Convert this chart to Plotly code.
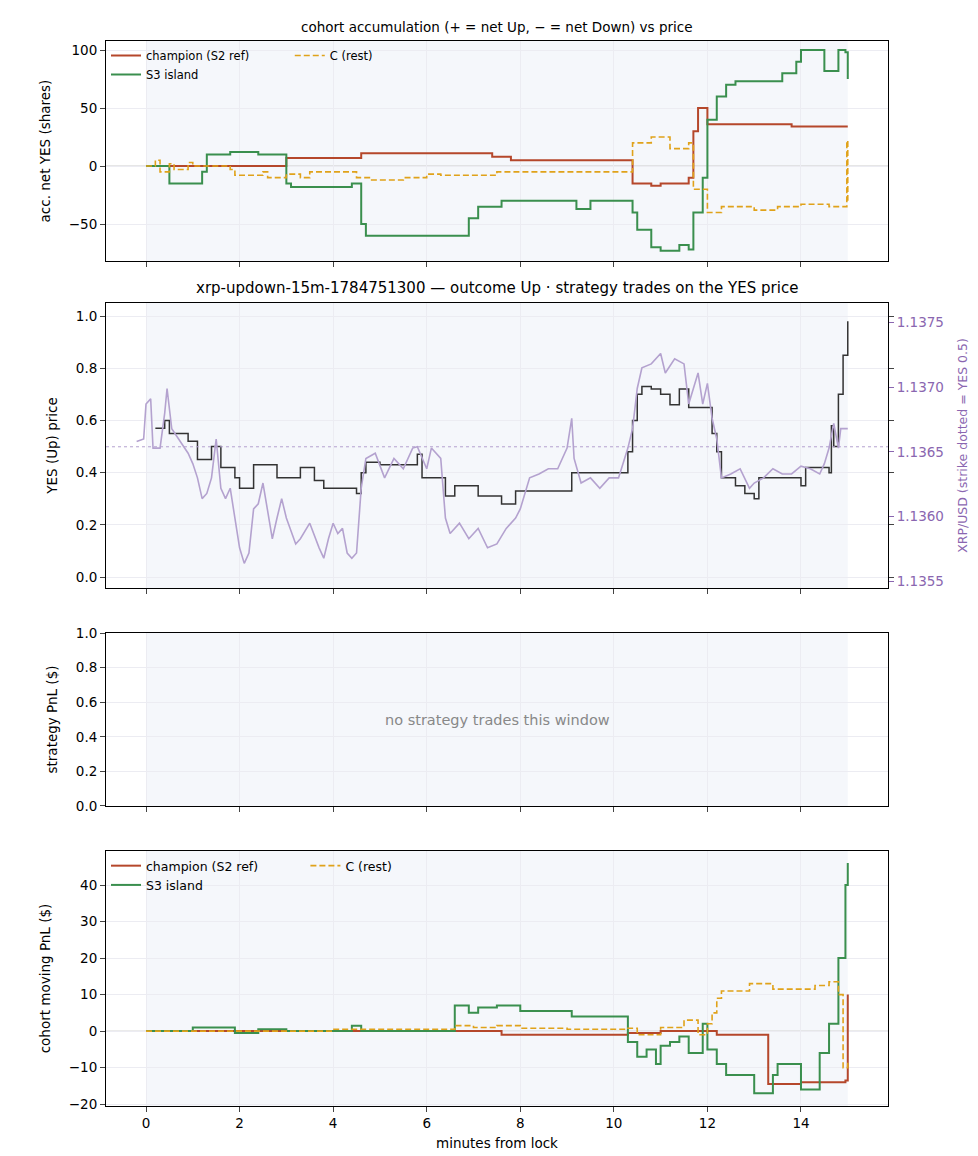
import plotly.graph_objects as go

# ---- panel 1: cohort accumulation ----
champ_acc_x = [0, 3.0, 4.6, 7.4, 7.8, 10.4, 10.8, 11.0, 11.5, 11.6, 11.7, 11.8, 12.0, 13.8, 15.0]
champ_acc_y = [0, 7, 11, 8, 5, -15, -17, -15, -15, -10, 30, 50, 36, 34, 34]
s3_acc_x = [0, 0.5, 1.2, 1.3, 1.8, 2.4, 3.0, 3.1, 4.4, 4.6, 4.7, 6.9, 7.1, 7.6, 9.2, 9.5, 10.4, 10.5, 10.8, 11.0, 11.4, 11.6, 11.7, 11.9, 12.0, 12.2, 12.4, 12.6, 13.6, 13.9, 14.0, 14.5, 14.8, 14.95, 15.0]
s3_acc_y = [0, -15, -5, 10, 12, 10, -15, -18, -15, -50, -60, -45, -35, -30, -37, -30, -40, -55, -70, -73, -68, -72, -40, -10, 40, 60, 70, 73, 80, 90, 100, 82, 100, 98, 75]
c_acc_x = [0, 0.2, 0.3, 0.5, 0.6, 0.9, 1.0, 1.8, 1.9, 2.5, 2.6, 3.0, 3.3, 3.5, 4.5, 4.8, 5.5, 6.0, 6.3, 7.5, 8.0, 10.3, 10.4, 10.8, 11.2, 11.6, 11.7, 12.0, 12.3, 13.0, 13.5, 14.0, 14.6, 14.98, 15.0]
c_acc_y = [0, 5, -5, 2, -3, 3, 0, -3, -8, -5, -10, -7, -10, -5, -10, -12, -10, -7, -8, -5, -5, -5, 20, 25, 15, 20, -20, -40, -35, -38, -35, -33, -35, 22, -30]

# ---- panel 2: YES price and XRP ----
yes_x = [0.2, 0.4, 0.5, 0.9, 1.1, 1.4, 1.6, 1.9, 2.0, 2.3, 2.8, 3.3, 3.6, 3.8, 4.5, 4.6, 4.7, 5.0, 5.8, 5.9, 6.4, 6.6, 7.1, 7.6, 7.9, 9.1, 10.3, 10.4, 10.5, 10.6, 10.8, 11.0, 11.2, 11.4, 11.6, 12.1, 12.2, 12.3, 12.6, 12.8, 13.0, 13.1, 14.0, 14.1, 14.6, 14.65, 14.7, 14.8, 14.9, 15.0]
yes_y = [0.57, 0.60, 0.55, 0.52, 0.45, 0.50, 0.42, 0.38, 0.34, 0.43, 0.38, 0.42, 0.37, 0.34, 0.32, 0.40, 0.44, 0.43, 0.47, 0.38, 0.31, 0.35, 0.31, 0.28, 0.33, 0.40, 0.48, 0.60, 0.70, 0.73, 0.72, 0.70, 0.66, 0.72, 0.65, 0.55, 0.48, 0.38, 0.35, 0.32, 0.30, 0.38, 0.35, 0.42, 0.40, 0.58, 0.50, 0.70, 0.85, 0.98]
xrp_x = [-0.2, -0.05, 0.0, 0.1, 0.15, 0.3, 0.4, 0.45, 0.55, 0.7, 0.9, 1.0, 1.1, 1.2, 1.3, 1.4, 1.5, 1.6, 1.7, 1.8, 1.9, 2.0, 2.1, 2.2, 2.3, 2.4, 2.5, 2.6, 2.7, 2.8, 2.9, 3.0, 3.2, 3.3, 3.5, 3.7, 3.8, 3.9, 4.0, 4.1, 4.2, 4.3, 4.4, 4.5, 4.6, 4.7, 4.9, 5.1, 5.3, 5.5, 5.7, 5.8, 6.0, 6.1, 6.3, 6.4, 6.5, 6.7, 6.9, 7.1, 7.3, 7.5, 7.7, 7.9, 8.0, 8.2, 8.4, 8.6, 8.8, 9.0, 9.1, 9.15, 9.3, 9.5, 9.7, 9.9, 10.1, 10.3, 10.4, 10.5, 10.6, 10.8, 11.0, 11.1, 11.3, 11.5, 11.6, 11.7, 11.8, 11.9, 12.0, 12.1, 12.2, 12.3, 12.5, 12.7, 12.9, 13.0, 13.2, 13.4, 13.6, 13.8, 14.0, 14.2, 14.4, 14.5, 14.6, 14.7, 14.8, 14.85, 15.0]
xrp_y = [1.13658, 1.13660, 1.13687, 1.13691, 1.13653, 1.13653, 1.13680, 1.13699, 1.13668, 1.13660, 1.13649, 1.13641, 1.13630, 1.13614, 1.13618, 1.13630, 1.13660, 1.13622, 1.13614, 1.13622, 1.13599, 1.13576, 1.13564, 1.13572, 1.13606, 1.13610, 1.13626, 1.13606, 1.13583, 1.13599, 1.13614, 1.13599, 1.13579, 1.13583, 1.13595, 1.13576, 1.13568, 1.13583, 1.13595, 1.13587, 1.13591, 1.13572, 1.13568, 1.13572, 1.13622, 1.13645, 1.13649, 1.13630, 1.13645, 1.13637, 1.13653, 1.13654, 1.13637, 1.13653, 1.13645, 1.13599, 1.13587, 1.13595, 1.13583, 1.13591, 1.13576, 1.13579, 1.13591, 1.13599, 1.13606, 1.13630, 1.13633, 1.13637, 1.13637, 1.13653, 1.13676, 1.13645, 1.13626, 1.13630, 1.13622, 1.13630, 1.13630, 1.13653, 1.13668, 1.13699, 1.13715, 1.13718, 1.13726, 1.13711, 1.13722, 1.13718, 1.13687, 1.13699, 1.13711, 1.13687, 1.13703, 1.13676, 1.13660, 1.13630, 1.13633, 1.13637, 1.13622, 1.13626, 1.13630, 1.13637, 1.13633, 1.13633, 1.13639, 1.13637, 1.13633, 1.13641, 1.13653, 1.13672, 1.13653, 1.13668, 1.13668]
strike = 1.13654

# ---- panel 4: cohort moving PnL ----
champ_pnl_x = [0, 7.6, 10.3, 11.0, 12.2, 13.3, 14.0, 14.95, 15.0]
champ_pnl_y = [0, -1, -0.5, 0, -1, -14.5, -14, -13.5, 10]
s3_pnl_x = [0, 1.0, 1.9, 2.4, 3.0, 4.4, 4.6, 6.6, 6.9, 7.1, 7.5, 8.0, 9.1, 10.3, 10.5, 10.7, 10.9, 11.0, 11.2, 11.4, 11.6, 11.9, 12.0, 12.2, 12.4, 13.0, 13.4, 13.5, 14.0, 14.4, 14.6, 14.8, 14.95, 15.0]
s3_pnl_y = [0, 1, -0.5, 0.5, 0, 1.5, 0, 7, 5, 6.5, 7, 5.5, 4, -3, -7, -5, -9, -4, -3, -1.5, -6, 2, -5, -9, -12, -17, -12, -9, -16, -6, 2, 20, 40, 46]
c_pnl_x = [0, 4.0, 6.6, 7.0, 7.5, 8.0, 9.0, 10.3, 10.5, 11.0, 11.5, 11.8, 12.0, 12.1, 12.2, 12.3, 12.9, 13.4, 14.3, 14.6, 14.8, 14.9, 15.0]
c_pnl_y = [0, 0.5, 1.5, 1, 1.5, 0.8, 0.5, 0.8, -1, 1, 3, -1, 2, 5, 9, 11, 13, 11.5, 12.5, 13.5, 10, -10, -8]

RED, GREEN, ORANGE = "#b5472b", "#3a8f4e", "#e0a21a"
PURPLE, PURPLE_T = "#b4a2cf", "#8a66b0"
FONT = "DejaVu Sans"
DASH = "6px,3px"

fig = go.Figure()
def step(x, y, color, name, xa, ya, dash="solid", legend=None, show=False, width=2):
    fig.add_trace(go.Scatter(x=x, y=y, mode="lines", line=dict(color=color, width=width, dash=dash, shape="hv"),
                             name=name, xaxis=xa, yaxis=ya, legend=legend, showlegend=show))

step(champ_acc_x, champ_acc_y, RED, "champion (S2 ref)", "x", "y", legend="legend", show=True)
step(s3_acc_x, s3_acc_y, GREEN, "S3 island", "x", "y", legend="legend", show=True)
step(c_acc_x, c_acc_y, ORANGE, "C (rest)", "x", "y", dash=DASH, legend="legend2", show=True, width=1.6)

fig.add_trace(go.Scatter(x=xrp_x, y=xrp_y, mode="lines", line=dict(color=PURPLE, width=1.6),
                         xaxis="x2", yaxis="y5", showlegend=False))
step(yes_x, yes_y, "#333333", "YES", "x2", "y2", width=1.5)

step(champ_pnl_x, champ_pnl_y, RED, "champion (S2 ref)", "x4", "y4", legend="legend3", show=True)
step(s3_pnl_x, s3_pnl_y, GREEN, "S3 island", "x4", "y4", legend="legend3", show=True)
step(c_pnl_x, c_pnl_y, ORANGE, "C (rest)", "x4", "y4", dash=DASH, legend="legend4", show=True, width=1.6)

xr = [-0.855, 15.86]
ax = dict(range=xr, showgrid=True, gridcolor="#ececf2", zeroline=False, showline=True, mirror=True, automargin=False,
          linecolor="black", ticks="outside", tickfont=dict(size=13.5), tickvals=[0, 2, 4, 6, 8, 10, 12, 14])
yx = dict(showgrid=True, gridcolor="#ececf2", zeroline=False, showline=True, mirror=True, linecolor="black",
          automargin=False, ticks="outside", tickfont=dict(size=13.5), title_font=dict(size=13.5))
fig.update_layout(
    width=978, height=1156, margin=dict(l=98, r=98, t=33, b=58),
    paper_bgcolor="white", plot_bgcolor="white", font=dict(family=FONT, color="black"),
    xaxis=dict(ax, anchor="y", showticklabels=False),
    xaxis2=dict(ax, anchor="y2", showticklabels=False),
    xaxis3=dict(ax, anchor="y3", showticklabels=False),
    xaxis4=dict(ax, anchor="y4", title=dict(text="minutes from lock", font=dict(size=13.5), standoff=8)),
    yaxis=dict(yx, domain=[0.7934, 1], range=[-81.9, 107.8], tickvals=[-50, 0, 50, 100],
               title=dict(text="acc. net YES (shares)")),
    yaxis2=dict(yx, domain=[0.4864, 0.7540], range=[-0.042, 1.05], tickvals=[0, 0.2, 0.4, 0.6, 0.8, 1.0],
                tickformat=".1f", title=dict(text="YES (Up) price"), mirror="ticks"),
    yaxis5=dict(overlaying="y2", side="right", range=[1.13545, 1.13765], showgrid=False, zeroline=False,
                automargin=False, tickvals=[1.1355, 1.1360, 1.1365, 1.1370, 1.1375], tickformat=".4f", ticks="outside",
                tickcolor=PURPLE_T, tickfont=dict(size=13.5, color=PURPLE_T), anchor="x2",
                title=dict(text="XRP/USD (strike dotted = YES 0.5)", font=dict(size=12.5, color=PURPLE_T))),
    yaxis3=dict(yx, domain=[0.2817, 0.4441], range=[0, 1], tickvals=[0, 0.2, 0.4, 0.6, 0.8, 1.0],
                tickformat=".1f", title=dict(text="strategy PnL ($)")),
    yaxis4=dict(yx, domain=[0, 0.2394], range=[-20.5, 49.3], tickvals=[-20, -10, 0, 10, 20, 30, 40],
                title=dict(text="cohort moving PnL ($)")),
    legend=dict(x=0.0, y=1.0, xanchor="left", yanchor="top", bgcolor="rgba(0,0,0,0)", font=dict(size=11.5), tracegroupgap=0),
    legend2=dict(x=0.235, y=1.0, xanchor="left", yanchor="top", bgcolor="rgba(0,0,0,0)", font=dict(size=11.5)),
    legend3=dict(x=0.0, y=0.2394, xanchor="left", yanchor="top", bgcolor="rgba(0,0,0,0)", font=dict(size=12.5), tracegroupgap=0),
    legend4=dict(x=0.255, y=0.2394, xanchor="left", yanchor="top", bgcolor="rgba(0,0,0,0)", font=dict(size=12.5)),
)

shapes = []
for ya in ["y", "y2", "y3", "y4"]:
    shapes.append(dict(type="rect", xref=ya.replace("y", "x"), yref=f"{ya} domain", x0=0, x1=15, y0=0, y1=1,
                       fillcolor="#f5f7fb", line_width=0, layer="below"))
shapes.append(dict(type="line", xref="x domain", yref="y", x0=0, x1=1, y0=0, y1=0, line=dict(color="#cccccc", width=1), layer="below"))
shapes.append(dict(type="line", xref="x4 domain", yref="y4", x0=0, x1=1, y0=0, y1=0, line=dict(color="#cccccc", width=1), layer="below"))
shapes.append(dict(type="line", xref="x2 domain", yref="y5", x0=0, x1=1, y0=strike, y1=strike, line=dict(color=PURPLE, width=1, dash="dot")))
fig.update_layout(shapes=shapes)

fig.add_annotation(text="cohort accumulation (+ = net Up, − = net Down) vs price", xref="paper", yref="paper",
                   x=0.5, y=1, yshift=4, yanchor="bottom", showarrow=False, font=dict(size=13.5))
fig.add_annotation(text="xrp-updown-15m-1784751300 — outcome Up · strategy trades on the YES price", xref="paper", yref="paper",
                   x=0.5, y=0.7540, yshift=4, yanchor="bottom", showarrow=False, font=dict(size=15))
fig.add_annotation(text="no strategy trades this window", xref="x3 domain", yref="y3 domain", x=0.5, y=0.5,
                   showarrow=False, font=dict(size=14.5, color="#888888"))

fig.write_html("out.html")
